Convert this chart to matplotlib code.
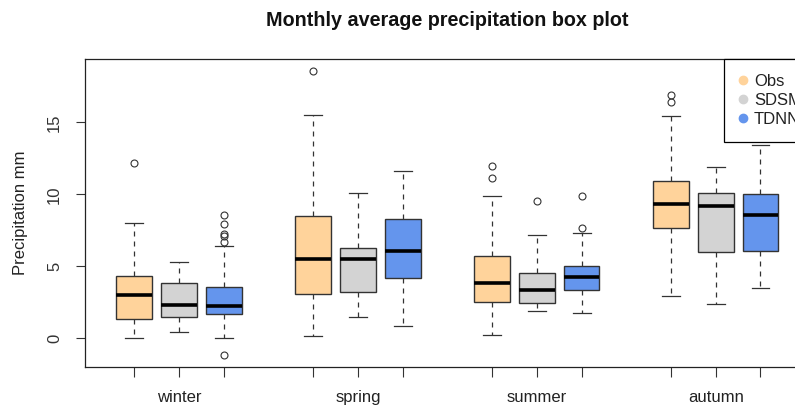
import matplotlib.pyplot as plt
from matplotlib.lines import Line2D

# Season groups and models
seasons = ['winter', 'spring', 'summer', 'autumn']
models = ['Obs', 'SDSM', 'TDNN']
colors = ['#FFD39B', '#D3D3D3', '#6495ED']

# Box statistics, order: winter Obs/SDSM/TDNN, spring ..., summer ..., autumn ...
whislo = [0.02, 0.46, 0.02, 0.16, 1.46, 0.88, 0.23, 1.90, 1.76, 2.96, 2.36, 3.47]
q1 = [1.32, 1.46, 1.69, 3.08, 3.24, 4.21, 2.52, 2.47, 3.38, 7.66, 6.01, 6.08]
med = [3.03, 2.32, 2.25, 5.51, 5.51, 6.08, 3.82, 3.38, 4.24, 9.35, 9.21, 8.59]
q3 = [4.30, 3.82, 3.59, 8.52, 6.30, 8.29, 5.74, 4.51, 5.02, 10.90, 10.10, 10.05]
whishi = [8.00, 5.30, 6.39, 15.49, 10.09, 11.64, 9.86, 7.15, 7.29, 15.42, 11.90, 13.42]
fliers = [
    [12.2], [], [8.59, 7.94, 7.22, 7.08, 6.67, -1.18],
    [18.54], [], [],
    [11.94, 11.13], [9.51], [9.86, 7.66],
    [16.92, 16.41], [], [],
]

plt.rcParams['font.family'] = ['Liberation Sans', 'DejaVu Sans']

fig = plt.figure(figsize=(7.95, 4.07), dpi=100)
ax = fig.add_axes([0.1069, 0.0983, 0.9116, 0.7567])

positions = [1, 2, 3, 5, 6, 7, 9, 10, 11, 13, 14, 15]
stats = []
for i in range(len(positions)):
    stats.append({'whislo': whislo[i], 'q1': q1[i], 'med': med[i], 'q3': q3[i],
                  'whishi': whishi[i], 'fliers': fliers[i]})

bp = ax.bxp(stats, positions=positions, widths=0.8, patch_artist=True,
            boxprops=dict(edgecolor='#333333', linewidth=1.0),
            medianprops=dict(color='black', linewidth=2.6, solid_capstyle='butt'),
            whiskerprops=dict(color='#333333', linewidth=0.9, linestyle=(0, (4, 4))),
            capprops=dict(color='#333333', linewidth=0.9),
            flierprops=dict(marker='o', markersize=5, markerfacecolor='none',
                            markeredgecolor='#333333', markeredgewidth=0.8),
            capwidths=0.4)
for i, box in enumerate(bp['boxes']):
    box.set_facecolor(colors[i % 3])

ax.set_xlim(-0.1, 16.1)
ax.set_ylim(-2.0, 19.4)

# ticks under every box, season name under the middle one
ax.set_xticks(positions)
ax.set_xticklabels([''] * len(positions))
for g, s in enumerate(seasons):
    ax.text(positions[g * 3 + 1], -0.1, s, transform=ax.get_xaxis_transform(),
            ha='center', va='center', fontsize=12, color='#222222')
ax.tick_params(axis='x', length=7, width=0.8, color='#333333')

ax.set_yticks([0, 5, 10, 15])
ax.set_yticklabels(['0', '5', '10', '15'], rotation=90, va='center', fontsize=12)
ax.tick_params(axis='y', length=6.5, width=0.8, color='#333333', pad=10, labelcolor='#333333')
ax.set_ylabel('Precipitation mm', fontsize=12, labelpad=14, color='#222222')

for sp in ax.spines.values():
    sp.set_color('#222222')
    sp.set_linewidth(0.9)

fig.text(0.5629, 1 - 20 / 407, 'Monthly average precipitation box plot', fontsize=14.2,
         fontweight='bold', ha='center', va='center', color='#111111')

handles = [Line2D([], [], marker='o', linestyle='none', markersize=6,
                  markerfacecolor=c, markeredgecolor=c) for c in colors]
leg = ax.legend(handles, models, loc='upper right', bbox_to_anchor=(1.0097, 1.0),
                borderaxespad=0, fancybox=False, edgecolor='black', fontsize=12,
                handlelength=0.5, handletextpad=0.4, borderpad=0.9,
                labelspacing=0.24, framealpha=1)
leg.get_frame().set_linewidth(0.9)
for t in leg.get_texts():
    t.set_color('#222222')

plt.savefig('out.png', dpi=100)
plt.close()
